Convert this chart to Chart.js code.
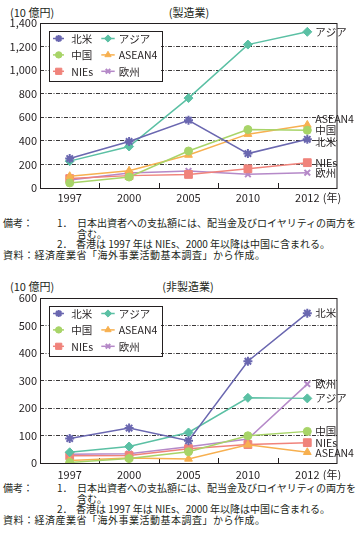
<!DOCTYPE html>
<html><head><meta charset="utf-8">
<script src="https://cdn.jsdelivr.net/npm/chart.js@4.4.0/dist/chart.umd.min.js"></script>
<style>
html,body{margin:0;padding:0;}
body{width:361px;height:544px;background:#fff;position:relative;overflow:hidden;font-family:"Noto Sans CJK JP",sans-serif;color:#231f20;}
.t{position:absolute;white-space:nowrap;font-size:11px;line-height:12px;}
.n{position:absolute;white-space:nowrap;font-size:10px;line-height:11px;}
canvas{position:absolute;left:0;}
</style></head><body>
<div class="t" style="left:10px;top:6px;">(10 億円)</div>
<div class="t" style="left:139px;top:6px;width:100px;text-align:center;">(製造業)</div>
<canvas id="c1" width="361" height="205" style="top:0px;"></canvas>
<div class="n" style="left:3px;top:216.5px;">備考：</div>
<div class="n" style="left:57px;top:216.5px;">1．</div>
<div class="n" style="left:77px;top:216.5px;">日本出資者への支払額には、配当金及びロイヤリティの両方を</div>
<div class="n" style="left:77px;top:227.5px;">含む。</div>
<div class="n" style="left:57px;top:237.5px;">2．</div>
<div class="n" style="left:76px;top:237.5px;">香港は 1997 年は NIEs、2000 年以降は中国に含まれる。</div>
<div class="n" style="left:3px;top:248.5px;letter-spacing:0.5px;">資料：経済産業省「海外事業活動基本調査」から作成。</div>

<div class="t" style="left:10px;top:280px;">(10 億円)</div>
<div class="t" style="left:138px;top:280px;width:100px;text-align:center;">(非製造業)</div>
<canvas id="c2" width="361" height="205" style="top:275px;"></canvas>
<div class="n" style="left:3px;top:481.5px;">備考：</div>
<div class="n" style="left:57px;top:481.5px;">1．</div>
<div class="n" style="left:77px;top:481.5px;">日本出資者への支払額には、配当金及びロイヤリティの両方を</div>
<div class="n" style="left:77px;top:492.5px;">含む。</div>
<div class="n" style="left:57px;top:502.5px;">2．</div>
<div class="n" style="left:76px;top:502.5px;">香港は 1997 年は NIEs、2000 年以降は中国に含まれる。</div>
<div class="n" style="left:3px;top:513.5px;letter-spacing:0.5px;">資料：経済産業省「海外事業活動基本調査」から作成。</div>
<script>
// ---- data ----
const years = ['1997', '2000', '2005', '2010', '2012'];
const seriesNames = ['北米', 'アジア', '中国', 'ASEAN4', 'NIEs', '欧州'];
const yTicksMfg = [0, 200, 400, 600, 800, 1000, 1200, 1400];
const yTicksNonMfg = [0, 100, 200, 300, 400, 500, 600];

// 製造業
const mfgNorthAmerica = [250, 395, 575, 292, 413];
const mfgAsia         = [228, 352, 763, 1217, 1325];
const mfgChina        = [43, 93, 314, 496, 490];
const mfgAsean4       = [100, 146, 280, 457, 535];
const mfgNIEs         = [80, 105, 115, 163, 215];
const mfgEurope       = [68, 127, 145, 116, 130];

// 非製造業
const nonNorthAmerica = [89, 127, 81, 370, 545];
const nonAsia         = [39, 60, 111, 237, 235];
const nonChina        = [2, 16, 41, 99, 115];
const nonAsean4       = [9, 18, 15, 66, 39];
const nonNIEs         = [26, 27, 52, 67, 74];
const nonEurope       = [32, 34, 59, 87, 287];

// ---- styles ----
const FONT = '"Noto Sans CJK JP", sans-serif';
const TXT = '#231f20';
const styles = [
  {color:'#6a67b0', ps:'star',     r:4.5, bw:2},
  {color:'#5bc0a4', ps:'rectRot',  r:4.5, bw:1},
  {color:'#a8d468', ps:'circle',   r:4,   bw:1},
  {color:'#f7b050', ps:'triangle', r:4.5, bw:1},
  {color:'#f0837b', ps:'rect',     r:5.5, bw:1},
  {color:'#b589c8', ps:'crossRot', r:4,   bw:2}
];

const framePlugin = {
  id:'frame',
  beforeDatasetsDraw(chart){
    const {ctx, chartArea:a, scales:{x}} = chart;
    ctx.save();
    ctx.strokeStyle = TXT; ctx.lineWidth = 1;
    ctx.strokeRect(Math.round(a.left)+0.5, Math.round(a.top)+0.5, Math.round(a.right-a.left)-1+0.5, Math.round(a.bottom-a.top));
    // inward tick marks between categories
    ctx.beginPath();
    for (let i = 1; i < years.length; i++) {
      const px = Math.round((x.getPixelForValue(i-1) + x.getPixelForValue(i)) / 2) + 0.5;
      ctx.moveTo(px, a.bottom); ctx.lineTo(px, a.bottom - 5);
    }
    ctx.stroke();
    ctx.restore();
  }
};

const legendPlugin = {
  id:'boxLegend',
  afterDatasetsDraw(chart){
    const {ctx, chartArea:a} = chart;
    const bx = a.left + 8.5, by = a.top + 7.7, bw = 112.5, bh = 50.3;
    ctx.save();
    ctx.fillStyle = '#fff';
    ctx.fillRect(bx, by, bw, bh);
    ctx.strokeStyle = TXT; ctx.lineWidth = 1;
    ctx.strokeRect(Math.round(bx)+0.5, Math.round(by)+0.5, Math.round(bw), Math.round(bh));
    const cols = [{l0:4.5, l1:15.5, m:10.2, t:22.8}, {l0:52.8, l1:66.2, m:59.5, t:70.2}];
    const rows = [7.8, 24.2, 40.6];
    chart.data.datasets.forEach((ds, i) => {
      const c = cols[i % 2], ry = by + rows[Math.floor(i / 2)];
      const st = styles[i];
      ctx.strokeStyle = st.color; ctx.lineWidth = 1.5;
      ctx.beginPath(); ctx.moveTo(bx + c.l0, ry); ctx.lineTo(bx + c.l1, ry); ctx.stroke();
      ctx.fillStyle = st.color; ctx.lineWidth = st.bw;
      Chart.helpers.drawPoint(ctx, {pointStyle: st.ps, radius: st.r * 0.8, rotation: 0, borderWidth: st.bw}, bx + c.m, ry);
      ctx.fillStyle = TXT;
      ctx.font = '10.5px ' + FONT;
      ctx.textBaseline = 'middle'; ctx.textAlign = 'left';
      ctx.fillText(ds.label, bx + c.t, ry + 0.5);
    });
    ctx.restore();
  }
};

const endLabelPlugin = {
  id:'endLabels',
  afterDatasetsDraw(chart, args, opts){
    const {ctx} = chart;
    ctx.save();
    ctx.fillStyle = TXT;
    ctx.font = '10.5px ' + FONT;
    ctx.textBaseline = 'middle'; ctx.textAlign = 'left';
    chart.data.datasets.forEach((ds, i) => {
      const meta = chart.getDatasetMeta(i);
      const p = meta.data[meta.data.length - 1];
      ctx.fillText(ds.label, p.x + 8, p.y + (opts.dy[i] || 0));
    });
    // (年) after the last category label
    const x = chart.scales.x;
    ctx.font = '11px ' + FONT;
    ctx.fillText('(年)', x.getPixelForValue(years.length - 1) + 15.5, x.top + opts.pad + 6.6);
    ctx.restore();
  }
};

function makeChart(id, values, ticks, dy, pad) {
  return new Chart(document.getElementById(id), {
    type:'line',
    data:{
      labels: years,
      datasets: seriesNames.map((n, i) => ({
        label: n, data: values[i],
        borderColor: styles[i].color, backgroundColor: styles[i].color,
        pointBorderColor: styles[i].color, pointBackgroundColor: styles[i].color,
        pointStyle: styles[i].ps, pointRadius: styles[i].r, pointBorderWidth: styles[i].bw,
        borderWidth: 1.5, tension: 0
      }))
    },
    options:{
      responsive:false, animation:false, devicePixelRatio:1,
      layout:{padding:{top:23, right:24, left:0, bottom:0}},
      plugins:{legend:{display:false}, tooltip:{enabled:false}, endLabels:{dy: dy, pad: pad}},
      scales:{
        x:{
          offset:true,
          grid:{display:false, drawTicks:false, offset:true}, border:{display:false},
          ticks:{padding:pad, font:{family:FONT, size:11}, color:TXT, maxRotation:0, autoSkip:false},
          afterFit(s){ s.height = 17; }
        },
        y:{
          min: ticks[0], max: ticks[ticks.length - 1],
          grid:{color:TXT, lineWidth:0.9, drawTicks:false},
          border:{display:false, dash:[4, 1.5, 1, 1.5]},
          afterBuildTicks(s){ s.ticks = ticks.map(v => ({value: v})); },
          ticks:{padding:3, font:{family:FONT, size:11}, color:TXT, callback: v => v.toLocaleString('en-US')},
          afterFit(s){ s.width = 40; }
        }
      }
    },
    plugins:[framePlugin, legendPlugin, endLabelPlugin]
  });
}

makeChart('c1', [mfgNorthAmerica, mfgAsia, mfgChina, mfgAsean4, mfgNIEs, mfgEurope], yTicksMfg, [3, 0, 0, -6, 0, 0], 3);
makeChart('c2', [nonNorthAmerica, nonAsia, nonChina, nonAsean4, nonNIEs, nonEurope], yTicksNonMfg, [0, 0, 0, 1, 0, 0], 5);
</script>
</body></html>
